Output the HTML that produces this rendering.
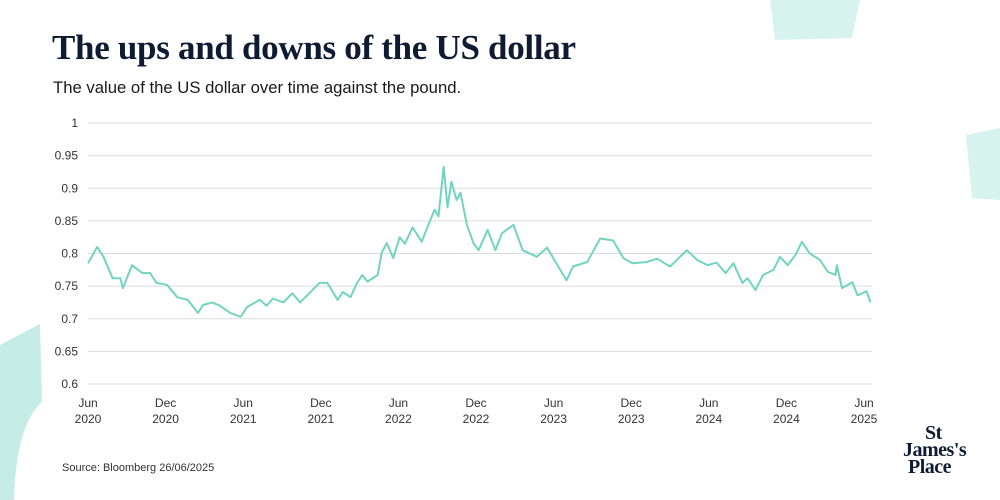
<!DOCTYPE html>
<html><head><meta charset="utf-8"><style>
html,body{margin:0;background:#fff;width:1000px;height:500px;overflow:hidden;}
#wrap{position:relative;width:1000px;height:500px;overflow:hidden;background:#fff;font-family:"Liberation Sans",sans-serif;}
.t{position:absolute;white-space:nowrap;}
</style></head><body>
<div id="wrap">
<svg width="1000" height="500" style="position:absolute;left:0;top:0">
<polygon points="770,0 860,0 852,38 775,40" fill="#d6f3ee"/>
<polygon points="966,135 1000,128 1000,200 972,198" fill="#d6f3ee"/>
<path d="M0,345 L40,324 L42,402 Q16,425 14,500 L0,500 Z" fill="#c6ece6"/>
</svg>
<div class="t" style="left:52px;top:28px;font-family:'Liberation Serif',serif;font-weight:bold;font-size:35px;color:#0f1b33;letter-spacing:-0.3px">The ups and downs of the US dollar</div>
<div class="t" style="left:53px;top:78px;font-size:16.7px;color:#1a1a1a">The value of the US dollar over time against the pound.</div>
<svg id="chart" width="1000" height="500" style="position:absolute;left:0;top:0"></svg>
<div class="t" style="left:62px;top:462px;font-size:11px;color:#333">Source: Bloomberg 26/06/2025</div>
<div class="t" style="left:903px;top:425px;font-family:'Liberation Serif',serif;font-weight:bold;font-size:20px;line-height:17px;color:#0f1b33;letter-spacing:-0.5px"><div style="padding-left:22px">St</div><div>James's</div><div style="padding-left:5px">Place</div></div>
</div>
<script>
const yTicks=[0.6,0.65,0.7,0.75,0.8,0.85,0.9,0.95,1];
const yTickLabels=["0.6","0.65","0.7","0.75","0.8","0.85","0.9","0.95","1"];
const xTickMonths=[0,6,12,18,24,30,36,42,48,54,60];
const xTickLabels=[["Jun","2020"],["Dec","2020"],["Jun","2021"],["Dec","2021"],["Jun","2022"],["Dec","2022"],["Jun","2023"],["Dec","2023"],["Jun","2024"],["Dec","2024"],["Jun","2025"]];
const months=[0,0.7,1.2,1.9,2.5,2.7,3.4,4.2,4.8,5.3,6.1,6.9,7.7,8.5,8.9,9.6,10.2,11.0,11.8,12.3,13.3,13.8,14.3,15.1,15.8,16.4,17.2,17.9,18.5,19.3,19.7,20.3,20.8,21.2,21.6,22.4,22.7,23.1,23.6,24.1,24.5,25.1,25.8,26.4,26.8,27.1,27.5,27.8,28.1,28.5,28.8,29.3,29.8,30.2,30.9,31.5,32.0,32.9,33.6,34.7,35.5,36.3,37.0,37.5,38.6,39.6,40.6,41.4,42.1,43.2,44.0,45.0,46.3,47.1,47.9,48.6,49.3,49.9,50.6,51.0,51.6,52.2,53.0,53.5,54.1,54.7,55.2,55.8,56.6,57.2,57.8,57.9,58.3,59.1,59.5,60.2,60.5];
const values=[0.785,0.81,0.795,0.762,0.762,0.747,0.782,0.77,0.77,0.755,0.752,0.733,0.729,0.709,0.721,0.725,0.72,0.709,0.703,0.718,0.729,0.72,0.731,0.725,0.739,0.725,0.741,0.755,0.755,0.729,0.741,0.733,0.755,0.767,0.757,0.767,0.801,0.816,0.793,0.825,0.815,0.84,0.818,0.848,0.867,0.857,0.933,0.871,0.91,0.882,0.893,0.844,0.816,0.805,0.836,0.805,0.831,0.844,0.805,0.795,0.809,0.782,0.759,0.78,0.787,0.823,0.82,0.793,0.785,0.787,0.792,0.78,0.805,0.79,0.782,0.786,0.77,0.785,0.755,0.762,0.744,0.767,0.775,0.795,0.782,0.798,0.818,0.8,0.79,0.772,0.767,0.782,0.747,0.756,0.736,0.742,0.725];
const svg=document.getElementById('chart');
const NS='http://www.w3.org/2000/svg';
const X0=88,X1=872,MW=776/60;
const Y0=384,YT=123;
function xs(m){return X0+m*MW;}
function ys(v){return Y0-(v-0.6)/0.4*(Y0-YT);}
yTicks.forEach((v,i)=>{
  const l=document.createElementNS(NS,'line');
  l.setAttribute('x1',X0);l.setAttribute('x2',X1);l.setAttribute('y1',ys(v));l.setAttribute('y2',ys(v));
  l.setAttribute('stroke','#dcdcdc');l.setAttribute('stroke-width','1');
  
  
  svg.appendChild(l);
  const t=document.createElementNS(NS,'text');
  t.setAttribute('x',78);t.setAttribute('y',ys(v)+4);t.setAttribute('text-anchor','end');
  t.setAttribute('font-size','12');t.setAttribute('fill','#333');t.setAttribute('font-family','Liberation Sans, sans-serif');
  t.textContent=yTickLabels[i];
  
  
  svg.appendChild(t);
});
xTickMonths.forEach((m,i)=>{
  xTickLabels[i].forEach((s,j)=>{
    const t=document.createElementNS(NS,'text');
    t.setAttribute('x',xs(m));t.setAttribute('y',407+j*16);t.setAttribute('text-anchor','middle');
    t.setAttribute('font-size','12');t.setAttribute('fill','#333');t.setAttribute('font-family','Liberation Sans, sans-serif');
    t.textContent=s;
    
    
    svg.appendChild(t);
  });
});
const p=document.createElementNS(NS,'polyline');
p.setAttribute('points',months.map((m,i)=>xs(m).toFixed(1)+','+ys(values[i]).toFixed(1)).join(' '));
p.setAttribute('fill','none');p.setAttribute('stroke','#72d4c0');p.setAttribute('stroke-width','2');p.setAttribute('stroke-linejoin','round');


svg.appendChild(p);
</script>
</body></html>
